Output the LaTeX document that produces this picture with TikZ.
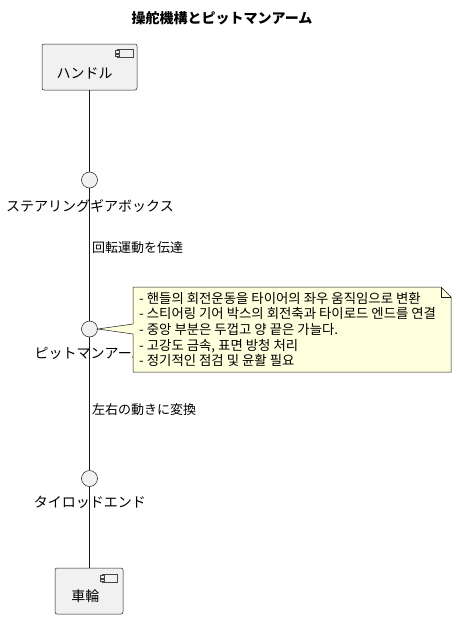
\documentclass[tikz,border=0pt]{standalone}
\usepackage{fontspec}
\newfontfamily\jp{Noto Sans CJK JP}
\newfontfamily\kr{Noto Sans CJK KR}
\definecolor{boxfill}{HTML}{F1F1F1}
\definecolor{edge}{HTML}{181818}
\definecolor{notefill}{HTML}{FEFFDD}
\tikzset{
  comp/.style={draw=edge, fill=boxfill, line width=0.5pt, rounded corners=2pt, inner sep=0pt},
  iface/.style={circle, draw=edge, fill=boxfill, line width=0.5pt, minimum size=16pt, inner sep=0pt},
  lbl/.style={font=\jp\fontsize{14}{16}\selectfont, inner sep=0pt},
  elbl/.style={font=\jp\fontsize{13}{15}\selectfont, inner sep=0pt, anchor=west},
  conn/.style={draw=edge, line width=0.8pt},
  icon/.style={draw=edge!80, line width=0.4pt, fill=boxfill},
}
\begin{document}
\begin{tikzpicture}[x=1pt,y=-1pt]
\useasboundingbox (0,0) rectangle (457,619);
% title
\node[inner sep=0pt, font=\jp\bfseries\fontsize{14}{16}\selectfont] (title) at (222,18) {操舵機構とピットマンアーム};
% components
\node[comp, minimum width=95pt, minimum height=46pt] (handle) at (89.5,67) {};
\node[lbl] (handletxt) at (84.7,73) {ハンドル};
\node[comp, minimum width=68pt, minimum height=46pt] (wheel) at (89,591) {};
\node[lbl] (wheeltxt) at (85.3,596) {車輪};
% component icons
\draw[icon] (117.5,49) rectangle (133,57.5);
\draw[icon] (115.5,50.5) rectangle (119.5,52.8);
\draw[icon] (115.5,53.8) rectangle (119.5,56);
\draw[icon] (102,574) rectangle (117.5,582.5);
\draw[icon] (100,575.5) rectangle (104,577.8);
\draw[icon] (100,578.8) rectangle (104,581);
% interfaces
\node[iface] (sgb) at (89.5,180) {};
\node[iface] (pit) at (89.5,329) {};
\node[iface] (tie) at (89.5,478.5) {};
\node[lbl] (sgblbl) at (90,206.5) {ステアリングギアボックス};
\node[lbl] (pitlbl) at (90,353) {ピットマンアーム};
\node[lbl] (tielbl) at (90,502) {タイロッドエンド};
% connectors
\draw[conn] (handle.south) -- (sgb.north);
\draw[conn] (sgb.south) -- (pit.north);
\draw[conn] (pit.south) -- (tie.north);
\draw[conn] (tie.south) -- (tie.south |- wheel.north);
\node[elbl] (e1) at (92,247.5) {回転運動を伝達};
\node[elbl] (e2) at (92,410) {左右の動きに変換};
% note
\filldraw[draw=edge, fill=notefill, line width=0.5pt]
  (133,287) -- (441,287) -- (451,297) -- (451,372) -- (133,372) -- (133,334) -- (pit.east) -- (133,324) -- cycle;
\draw[draw=edge, line width=0.5pt] (441,287) -- (441,297) -- (451,297);
\node[anchor=north west, align=left, inner sep=0pt, font=\kr\fontsize{13.4}{15.6}\selectfont] (note) at (139,292) {- 핸들의 회전운동을 타이어의 좌우 움직임으로 변환\\- 스티어링 기어 박스의 회전축과 타이로드 엔드를 연결\\- 중앙 부분은 두껍고 양 끝은 가늘다.\\- 고강도 금속, 표면 방청 처리\\- 정기적인 점검 및 윤활 필요};
\end{tikzpicture}
\end{document}
